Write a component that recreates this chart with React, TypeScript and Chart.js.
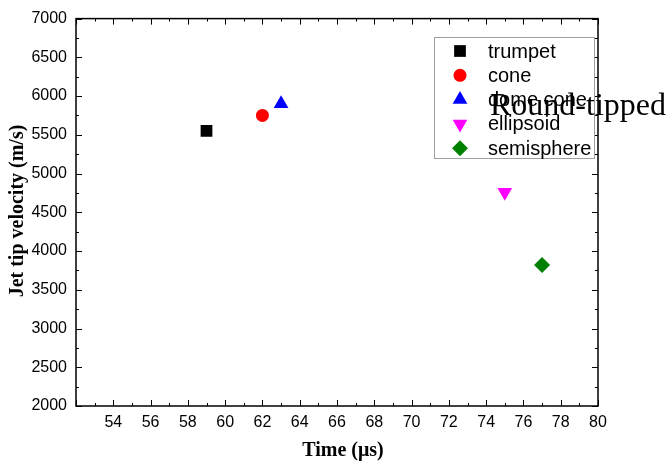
import React, { useEffect, useRef } from 'react';
import { Chart, registerables } from 'chart.js';

Chart.register(...registerables);

const seriesNames = ['trumpet', 'cone', 'dome cone', 'ellipsoid', 'semisphere'];
const timeValues = [59, 62, 63, 75, 77];
const velocityValues = [5550, 5750, 5900, 4760, 3820];
const seriesColors = ['#000000', '#ff0000', '#0000ff', '#ff00ff', '#008000'];
const seriesShapes = ['rect', 'circle', 'triangle', 'triangle', 'rectRot'];
const seriesRotations = [0, 0, 0, 180, 0];
const seriesRadii = [8.3, 6.5, 8.5, 8.5, 8];

const xMin = 52;
const xMax = 80;
const xStep = 2;
const yMin = 2000;
const yMax = 7000;
const yStep = 500;

const xTitle = 'Time (μs)';
const yTitle = 'Jet tip velocity (m/s)';
const annotationText = 'Round-tipped';

const SANS = '"Liberation Sans", Arial, sans-serif';
const SERIF = '"Liberation Serif", "Times New Roman", serif';

function drawMarker(ctx: CanvasRenderingContext2D, shape: string, x: number, y: number, r: number, rotDeg: number) {
  ctx.beginPath();
  if (shape === 'circle') {
    ctx.arc(x, y, r, 0, Math.PI * 2);
  } else if (shape === 'rect') {
    const s = Math.SQRT1_2 * r;
    ctx.rect(x - s, y - s, 2 * s, 2 * s);
  } else if (shape === 'rectRot') {
    ctx.moveTo(x - r, y);
    ctx.lineTo(x, y - r);
    ctx.lineTo(x + r, y);
    ctx.lineTo(x, y + r);
    ctx.closePath();
  } else if (shape === 'triangle') {
    let rad = (rotDeg * Math.PI) / 180;
    ctx.moveTo(x + Math.sin(rad) * r, y - Math.cos(rad) * r);
    rad += (2 * Math.PI) / 3;
    ctx.lineTo(x + Math.sin(rad) * r, y - Math.cos(rad) * r);
    rad += (2 * Math.PI) / 3;
    ctx.lineTo(x + Math.sin(rad) * r, y - Math.cos(rad) * r);
    ctx.closePath();
  }
  ctx.fill();
}

const framePlugin = {
  id: 'framePlugin',
  afterDraw(chart: any) {
    const ctx: CanvasRenderingContext2D = chart.ctx;
    const { left, right, top, bottom } = chart.chartArea;
    const xs = chart.scales.x;
    const ys = chart.scales.y;
    ctx.save();
    // frame
    ctx.strokeStyle = '#000';
    ctx.lineWidth = 1.5;
    ctx.strokeRect(left, top, right - left, bottom - top);
    // inward ticks
    ctx.lineWidth = 1;
    ctx.beginPath();
    for (let v = xMin; v <= xMax; v += xStep / 2) {
      const len = (v - xMin) % xStep === 0 ? 6 : 3;
      const px = Math.round(xs.getPixelForValue(v)) + 0.5;
      ctx.moveTo(px, bottom);
      ctx.lineTo(px, bottom - len);
      ctx.moveTo(px, top);
      ctx.lineTo(px, top + len);
    }
    for (let v = yMin; v <= yMax; v += yStep / 2) {
      const len = (v - yMin) % yStep === 0 ? 6 : 3;
      const py = Math.round(ys.getPixelForValue(v)) + 0.5;
      ctx.moveTo(left, py);
      ctx.lineTo(left + len, py);
      ctx.moveTo(right, py);
      ctx.lineTo(right - len, py);
    }
    ctx.stroke();

    // legend
    const lx = 434.5, ly = 37.5, lw = 160, lh = 121;
    ctx.fillStyle = '#fff';
    ctx.fillRect(lx, ly, lw, lh);
    ctx.strokeStyle = '#a0a0a0';
    ctx.lineWidth = 1;
    ctx.strokeRect(lx, ly, lw, lh);
    ctx.font = `20px ${SANS}`;
    ctx.textBaseline = 'middle';
    ctx.textAlign = 'left';
    seriesNames.forEach((name, i) => {
      const cy = 51 + i * 24.3;
      ctx.fillStyle = seriesColors[i];
      drawMarker(ctx, seriesShapes[i], 460, cy, seriesRadii[i], seriesRotations[i]);
      ctx.fillStyle = '#000';
      ctx.fillText(name, 488, cy + 1);
    });

    // annotation
    ctx.font = `32px ${SERIF}`;
    ctx.textBaseline = 'alphabetic';
    ctx.fillStyle = '#000';
    ctx.fillText(annotationText, 490, 115);

    // axis titles
    ctx.font = `bold 20px ${SERIF}`;
    ctx.textAlign = 'center';
    ctx.textBaseline = 'middle';
    ctx.fillText(xTitle, 343, 451);
    ctx.save();
    ctx.translate(18, 211);
    ctx.rotate(-Math.PI / 2);
    ctx.fillText(yTitle, 0, 0);
    ctx.restore();
    ctx.restore();
  },
};

export default function App() {
  const ref = useRef<HTMLCanvasElement>(null);
  useEffect(() => {
    const datasets = seriesNames.map((name, i) => ({
      label: name,
      data: [{ x: timeValues[i], y: velocityValues[i] }],
      pointStyle: seriesShapes[i],
      pointRotation: seriesRotations[i],
      pointRadius: seriesRadii[i],
      pointHoverRadius: seriesRadii[i],
      pointBackgroundColor: seriesColors[i],
      pointBorderColor: seriesColors[i],
      pointBorderWidth: 0,
      showLine: false,
    }));
    const chart = new Chart(ref.current as HTMLCanvasElement, {
      type: 'scatter',
      data: { datasets: datasets as any },
      options: {
        animation: false,
        responsive: false,
        devicePixelRatio: 1,
        layout: { padding: { top: 18, right: 68, left: 0, bottom: 0 } },
        plugins: { legend: { display: false }, tooltip: { enabled: false } },
        scales: {
          x: {
            type: 'linear',
            min: xMin,
            max: xMax,
            grid: { display: false, drawTicks: false },
            border: { display: false },
            ticks: {
              stepSize: xStep,
              color: '#000',
              font: { family: SANS, size: 16 },
              padding: 7,
              maxRotation: 0,
              autoSkip: false,
              callback: (v: any) => (v === xMin ? '' : String(v)),
            },
            afterFit: (s: any) => {
              s.height = 56;
            },
          },
          y: {
            type: 'linear',
            min: yMin,
            max: yMax,
            grid: { display: false, drawTicks: false },
            border: { display: false },
            ticks: {
              stepSize: yStep,
              color: '#000',
              font: { family: SANS, size: 16 },
              padding: 9,
              autoSkip: false,
              callback: (v: any) => String(v),
            },
            afterFit: (s: any) => {
              s.width = 76;
            },
          },
        },
      },
      plugins: [framePlugin],
    });
    return () => chart.destroy();
  }, []);
  return (
    <div style={{ position: 'fixed', left: 0, top: 0, width: 666, height: 462, background: '#fff' }}>
      <canvas ref={ref} width={666} height={462} style={{ display: 'block' }} />
    </div>
  );
}
